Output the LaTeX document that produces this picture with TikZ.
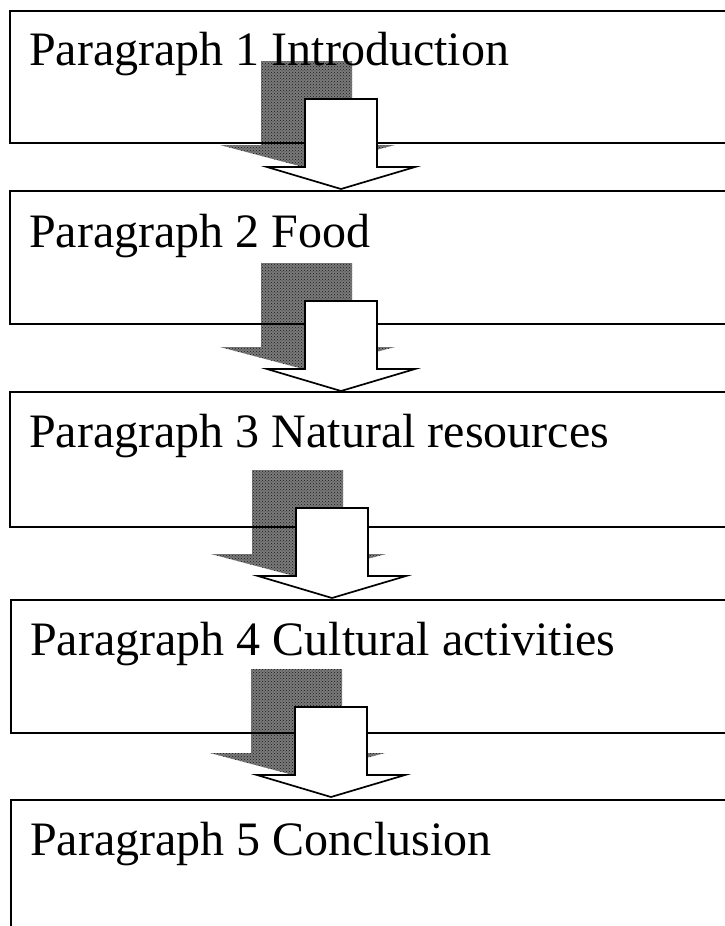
\documentclass[tikz,border=0pt]{standalone}
\usepackage{fontspec}
\setmainfont{Liberation Serif}
\usetikzlibrary{patterns}
\begin{document}
\begin{tikzpicture}[x=1pt,y=-1pt,
  parabox/.style={draw=black, line width=1.8pt, inner sep=0pt, anchor=north west, minimum width=760pt},
  parlabel/.style={anchor=base west, inner sep=0pt, font=\fontsize{48}{56}\selectfont},
  blockarrow/.style={draw=black, fill=white, line width=1.7pt, line join=miter},
  arrowshadow/.style={fill=black!52, postaction={pattern=crosshatch dots, pattern color=black!90}}]
\clip (0,0) rectangle (725,926);
\fill[white] (0,0) rectangle (725,926);
% arrow origins (top-left corner of each shaft)
\coordinate (a1) at (305,99);
\coordinate (a2) at (305,301);
\coordinate (a3) at (296,508);
\coordinate (a4) at (295,707);
% shadows
\foreach \a in {a1,a2,a3,a4}{
  \fill[arrowshadow, shift={(\a)}] (-44,-38) -- (47,-38) -- (47,46) -- (90,46) -- (2,69) -- (-85,46) -- (-44,46) -- cycle;
}
% boxes
\node[parabox, minimum height=132pt] (box1) at (9,10) {};
\node[parabox, minimum height=133pt] (box2) at (9,190) {};
\node[parabox, minimum height=135pt] (box3) at (9,391) {};
\node[parabox, minimum height=133pt] (box4) at (10,599) {};
\node[parabox, minimum height=170pt] (box5) at (10,799) {};
% labels
\node[parlabel] (t1) at (29,65) {Paragraph 1 Introduction};
\node[parlabel] (t2) at (29,247) {Paragraph 2 Food};
\node[parlabel] (t3) at (29,447) {Paragraph 3 Natural resources};
\node[parlabel] (t4) at (30,655) {Paragraph 4 Cultural activities};
\node[parlabel] (t5) at (30,855) {Paragraph 5 Conclusion};
% block arrows
\foreach \a in {a1,a2,a3,a4}{
  \draw[blockarrow, shift={(\a)}] (0,0) -- (72,0) -- (72,68) -- (110,68) -- (36,90) -- (-38,68) -- (0,68) -- cycle;
}
\end{tikzpicture}
\end{document}
